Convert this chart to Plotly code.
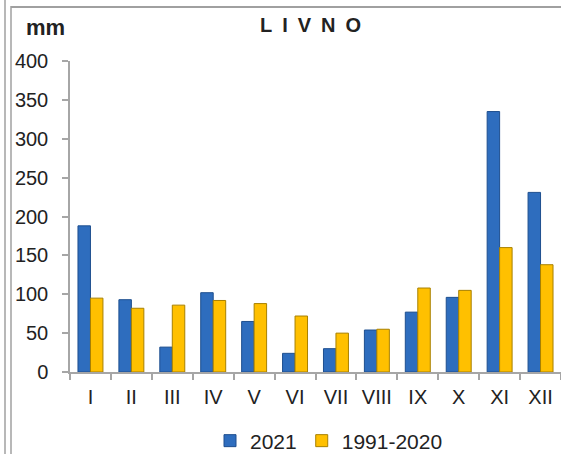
import plotly.graph_objects as go

months = ["I", "II", "III", "IV", "V", "VI", "VII", "VIII", "IX", "X", "XI", "XII"]
p2021 = [188, 93, 32, 102, 65, 24, 30, 54, 77, 96, 335, 231]
p1991_2020 = [95, 82, 86, 92, 88, 72, 50, 55, 108, 105, 160, 138]
yticks = [0, 50, 100, 150, 200, 250, 300, 350, 400]

W, H = 561, 454
ML, MR, MT, MB = 70, 0, 61, 82
PW = W - ML - MR
PH = H - MT - MB

def px(x):
    return (x - ML) / PW

def py(y):
    return (H - MB - y) / PH

fig = go.Figure()
fig.add_trace(go.Bar(
    x=months, y=p2021, name="2021",
    marker=dict(color="#2E6DBE", line=dict(color="#1E4F8F", width=1)),
))
fig.add_trace(go.Bar(
    x=months, y=p1991_2020, name="1991-2020",
    marker=dict(color="#FFC000", line=dict(color="#A88000", width=1)),
))

axis_color = "#A6A6A6"
fig.update_layout(
    width=W, height=H,
    margin=dict(l=ML, r=MR, t=MT, b=MB, autoexpand=False),
    paper_bgcolor="white", plot_bgcolor="white",
    font=dict(family="Liberation Sans, Arial, sans-serif", size=20, color="#222222"),
    barmode="group", bargap=0.39, bargroupgap=0,
    showlegend=True,
    legend=dict(orientation="h", x=px(329), xanchor="center", y=py(441), yanchor="middle",
                font=dict(size=21), itemwidth=30, tracegroupgap=0,
                bgcolor="rgba(0,0,0,0)"),
    xaxis=dict(type="category", range=[-0.5, 11.5], showline=True, linecolor=axis_color,
               linewidth=1.5, ticks="outside", tickson="boundaries", ticklen=6,
               tickcolor=axis_color, tickwidth=1.5, showgrid=False, zeroline=False,
               ticklabelstandoff=6, tickfont=dict(size=20), automargin=False),
    yaxis=dict(range=[0, 400], tickvals=yticks, showline=True, linecolor=axis_color,
               linewidth=1.5, ticks="outside", ticklen=6, tickcolor=axis_color, tickwidth=1.5,
               showgrid=False, zeroline=False, ticklabelstandoff=10, tickfont=dict(size=20),
               automargin=False),
    annotations=[
        dict(text="<b>mm</b>", xref="paper", yref="paper", x=px(45), y=py(28),
             xanchor="center", yanchor="middle", showarrow=False, font=dict(size=22)),
        dict(text="<b>L\u2002I\u2002V\u2002N\u2002O</b>", xref="paper", yref="paper",
             x=px(310), y=py(25), xanchor="center", yanchor="middle", showarrow=False,
             font=dict(size=20)),
    ],
    shapes=[
        dict(type="line", xref="paper", yref="paper", x0=px(5), x1=px(5), y0=py(0), y1=py(454),
             line=dict(color="#A0A0A0", width=1.5)),
        dict(type="line", xref="paper", yref="paper", x0=px(11), x1=px(11), y0=py(6), y1=py(454),
             line=dict(color="#A0A0A0", width=1.5)),
        dict(type="line", xref="paper", yref="paper", x0=px(11), x1=px(561), y0=py(7), y1=py(7),
             line=dict(color="#A0A0A0", width=2)),
    ],
)

fig.write_html("out.html", config={"displayModeBar": False})

with open("out.html", "r", encoding="utf-8") as f:
    html = f.read()
html = html.replace("<head>", "<head><style>html,body{margin:0;padding:0;overflow:hidden;}</style>", 1)
with open("out.html", "w", encoding="utf-8") as f:
    f.write(html)
